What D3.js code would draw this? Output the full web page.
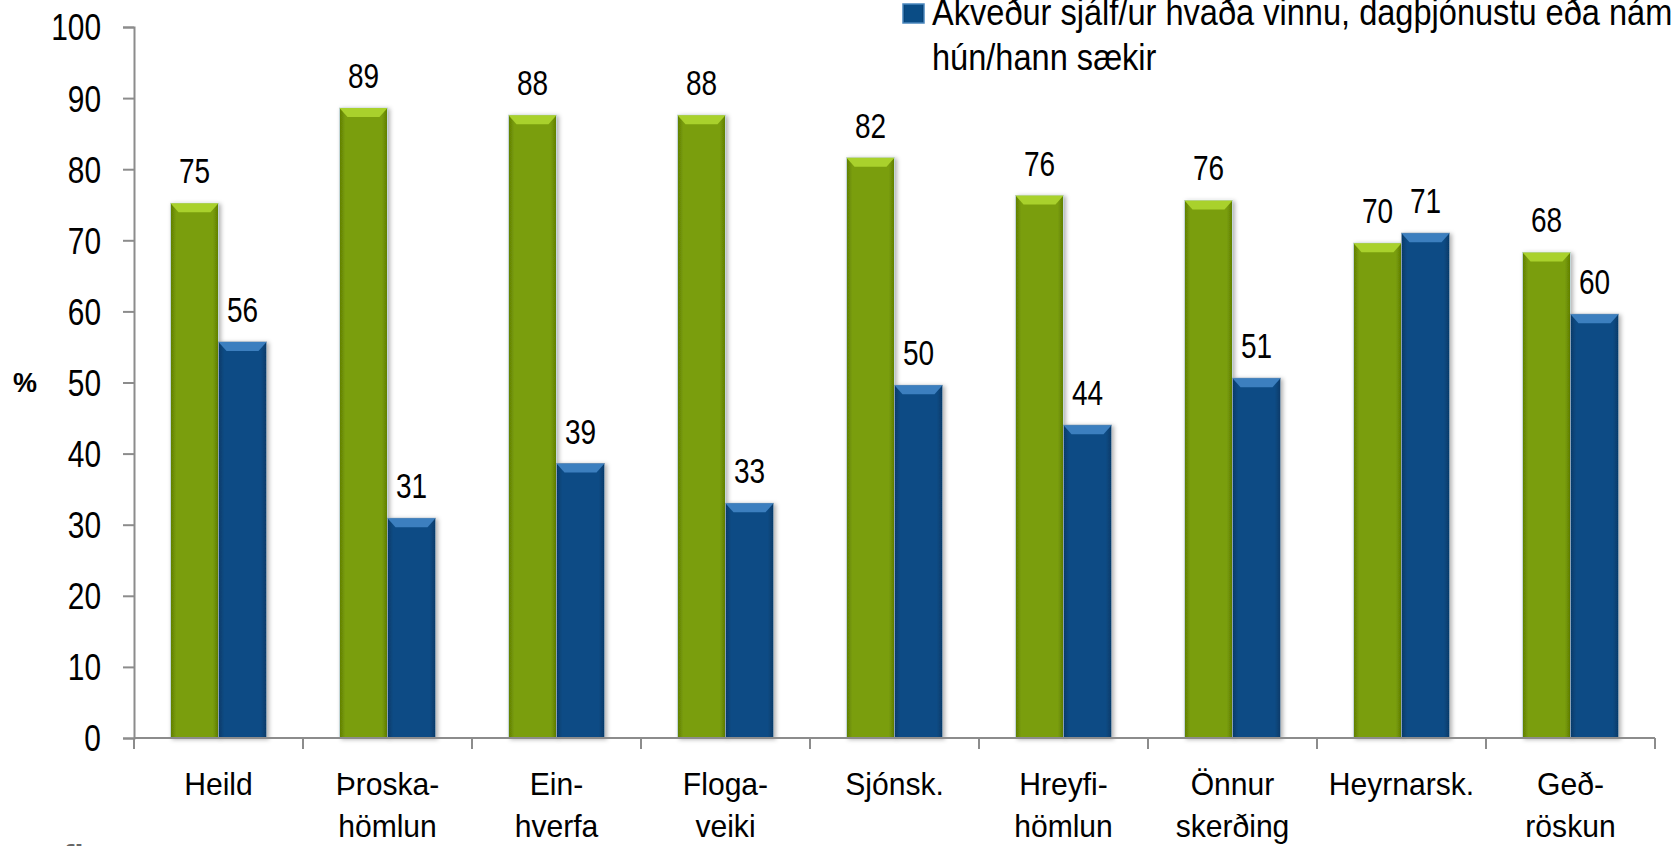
<!DOCTYPE html>
<meta charset="utf-8">
<style>
body {
  margin: 0;
  background: #fff;
  font-family: "Liberation Sans", Arial, sans-serif;
}
svg text { fill: #000; }
.axis path, .axis line { stroke: #8c8c8c; stroke-width: 2px; }
</style>
<body>
<script src="https://cdnjs.cloudflare.com/ajax/libs/d3/7.8.5/d3.min.js"></script>
<script>
var categories = [
  ["Heild"], ["Þroska-", "hömlun"], ["Ein-", "hverfa"], ["Floga-", "veiki"],
  ["Sjónsk."], ["Hreyfi-", "hömlun"], ["Önnur", "skerðing"], ["Heyrnarsk."], ["Geð-", "röskun"]
];
// green series (legend entry cut off above the picture)
var greenValues = [75.2, 88.6, 87.6, 87.6, 81.6, 76.3, 75.6, 69.6, 68.3];
// blue series
var blueValues = [55.7, 30.9, 38.6, 33.0, 49.6, 44.0, 50.6, 71.0, 59.6];
var yTicks = [0, 10, 20, 30, 40, 50, 60, 70, 80, 90, 100];
var legendLines = ["Ákveður sjálf/ur hvaða vinnu, dagþjónustu eða nám", "hún/hann sækir"];

var W = 1678, H = 846;
var plotLeft = 134, plotRight = 1655, plotTop = 27, plotBottom = 738;
var barW = 48;

var svg = d3.select("body").append("svg")
    .attr("width", W)
    .attr("height", H);

// squeeze text to look like a narrow face
function narrow(sel, k) {
  sel.each(function() {
    var len = this.getComputedTextLength();
    d3.select(this).attr("textLength", len * k).attr("lengthAdjust", "spacingAndGlyphs");
  });
}

var defs = svg.append("defs");
function sideGrad(id, c1, c2) {
  var g = defs.append("linearGradient").attr("id", id)
      .attr("x1", 0).attr("x2", 1).attr("y1", 0).attr("y2", 0);
  g.append("stop").attr("offset", 0).attr("stop-color", c2);
  g.append("stop").attr("offset", 0.12).attr("stop-color", c1);
  g.append("stop").attr("offset", 0.88).attr("stop-color", c1);
  g.append("stop").attr("offset", 1).attr("stop-color", c2);
}
sideGrad("gGreen", "#7a9e08", "#5f7d05");
sideGrad("gBlue", "#0a4c85", "#063a68");
var sh = defs.append("filter").attr("id", "shadow")
    .attr("x", "-20%").attr("y", "-5%").attr("width", "150%").attr("height", "115%");
sh.append("feDropShadow").attr("dx", 2).attr("dy", 1).attr("stdDeviation", 2)
    .attr("flood-color", "#000").attr("flood-opacity", 0.3);

var x = d3.scaleBand().domain(d3.range(categories.length)).range([plotLeft, plotRight]).padding(0);
var y = d3.scaleLinear().domain([0, 100]).range([plotBottom, plotTop]);

var series = [
  {values: greenValues, fill: "url(#gGreen)", bevel: "#a9d12c", edge: "#c3d6d8", off: -barW},
  {values: blueValues, fill: "url(#gBlue)", bevel: "#3c7fbf", edge: "#8aa0b4", off: 0}
];

series.forEach(function(s) {
  var g = svg.append("g");
  var bars = g.selectAll("g.bar").data(s.values).enter().append("g").attr("class", "bar");
  bars.append("rect")
      .attr("x", function(d, i) { return x(i) + x.bandwidth() / 2 + s.off; })
      .attr("y", function(d) { return y(d); })
      .attr("width", barW)
      .attr("height", function(d) { return y(0) - y(d); })
      .attr("fill", s.fill)
      .attr("stroke", s.edge)
      .attr("stroke-width", 1)
      .attr("filter", "url(#shadow)");
  bars.append("path")
      .attr("d", function(d, i) {
        var x0 = x(i) + x.bandwidth() / 2 + s.off, y0 = y(d);
        return "M" + x0 + "," + y0 + "h" + barW + "l-8,9h" + (16 - barW) + "Z";
      })
      .attr("fill", s.bevel);
  g.selectAll("text.val").data(s.values).enter().append("text")
      .attr("class", "val")
      .attr("x", function(d, i) { return x(i) + x.bandwidth() / 2 + s.off + barW / 2; })
      .attr("y", function(d) { return y(d) - 20; })
      .attr("text-anchor", "middle")
      .attr("font-size", 35)
      .text(function(d) { return Math.round(d); })
      .call(narrow, 0.8);
});

// y axis
var yAxis = svg.append("g").attr("class", "axis")
    .attr("transform", "translate(" + plotLeft + ",0)")
    .call(d3.axisLeft(y).tickValues(yTicks).tickSize(11).tickSizeOuter(11).tickPadding(22));
yAxis.selectAll("text").attr("font-size", 36).attr("font-family", "inherit")
    .attr("dy", "0.36em").call(narrow, 0.83);

// x axis
var xAxis = svg.append("g").attr("class", "axis")
    .attr("transform", "translate(0," + plotBottom + ")");
xAxis.append("line").attr("x1", plotLeft).attr("x2", plotRight).attr("y1", 0).attr("y2", 0);
xAxis.selectAll("line.tk").data(d3.range(categories.length + 1)).enter().append("line")
    .attr("class", "tk")
    .attr("x1", function(i) { return plotLeft + i * x.step(); })
    .attr("x2", function(i) { return plotLeft + i * x.step(); })
    .attr("y1", 0).attr("y2", 11);
var catLines = [];
categories.forEach(function(c, i) {
  c.forEach(function(t, j) { catLines.push({i: i, j: j, t: t}); });
});
xAxis.selectAll("text.cat").data(catLines).enter().append("text")
    .attr("class", "cat")
    .attr("text-anchor", "middle")
    .attr("font-size", 32)
    .attr("x", function(d) { return x(d.i) + x.bandwidth() / 2; })
    .attr("y", function(d) { return 57 + d.j * 42; })
    .text(function(d) { return d.t; })
    .call(narrow, 0.94);

// axis title
svg.append("text").attr("x", 25).attr("y", 382).attr("text-anchor", "middle")
    .attr("dy", "0.36em").attr("font-size", 27).attr("font-weight", "bold").text("%");

// legend (only second entry visible)
svg.append("rect").attr("x", 903).attr("y", 4).attr("width", 21).attr("height", 19)
    .attr("fill", "url(#gBlue)").attr("stroke", "#4a86bd").attr("stroke-width", 1.5);
svg.selectAll("text.leg").data(legendLines).enter().append("text")
    .attr("class", "leg")
    .attr("x", 932)
    .attr("y", function(d, i) { return 25 + i * 45; })
    .attr("font-size", 37)
    .text(function(d) { return d; })
    .call(narrow, 0.88);

// cut-off logo at bottom left
svg.append("text").attr("x", 44).attr("y", 868).attr("font-size", 34)
    .attr("font-weight", "bold").style("fill", "#666").text("afl");
</script>
</body>
